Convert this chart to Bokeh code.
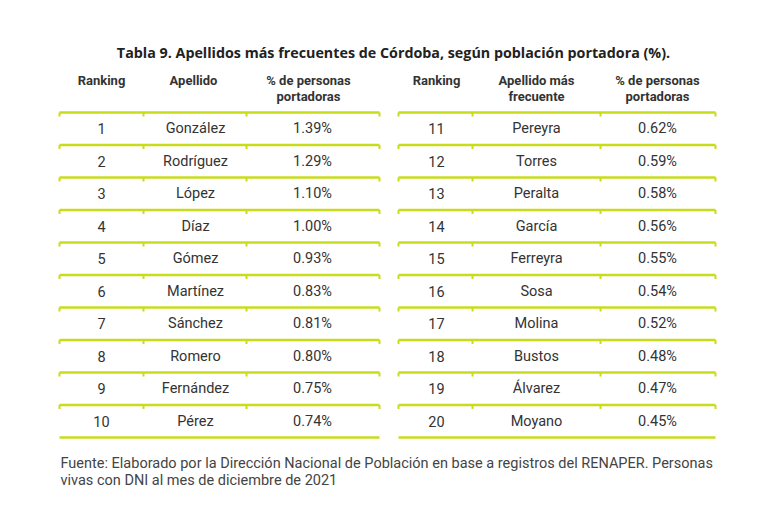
from bokeh.plotting import figure
from bokeh.models import Range1d, ColumnDataSource
from bokeh.core.properties import value
from bokeh.embed import file_html
from bokeh.resources import INLINE

title = "Tabla 9. Apellidos más frecuentes de Córdoba, según población portadora (%)."
left_headers = ["Ranking", "Apellido", "% de personas\nportadoras"]
right_headers = ["Ranking", "Apellido más\nfrecuente", "% de personas\nportadoras"]

ranking = list(range(1, 21))
apellidos = ["González", "Rodríguez", "López", "Díaz", "Gómez", "Martínez", "Sánchez",
             "Romero", "Fernández", "Pérez", "Pereyra", "Torres", "Peralta", "García",
             "Ferreyra", "Sosa", "Molina", "Bustos", "Álvarez", "Moyano"]
porcentaje = [1.39, 1.29, 1.10, 1.00, 0.93, 0.83, 0.81, 0.80, 0.75, 0.74,
              0.62, 0.59, 0.58, 0.56, 0.55, 0.54, 0.52, 0.48, 0.47, 0.45]
footer = ["Fuente: Elaborado por la Dirección Nacional de Población en base a registros del RENAPER. Personas",
          "vivas con DNI al mes de diciembre de 2021"]

W, H = 752, 496
p = figure(width=W, height=H, output_backend="svg", toolbar_location=None,
           x_range=Range1d(0, W), y_range=Range1d(H, 0),
           min_border=0)
p.axis.visible = False
p.grid.visible = False
p.outline_line_color = None
p.background_fill_color = "white"

LINE = "#c9dc1c"
TXT = "#333333"
FONT = value("Roboto")

# layout
tables = [
    dict(x0=59, bounds=[143, 246], x1=379, centers=[101, 195, 312], hx=[101, 193, 308], headers=left_headers),
    dict(x0=398, bounds=[472, 600], x1=715, centers=[436, 536, 657], hx=[436, 536, 657], headers=right_headers),
]
top = 112.0
rh = 32.5
nrows = 10

p.text(x=[393], y=[52], text=[title], text_font=value("Open Sans"), text_font_style="bold",
       text_font_size="14.3px", text_color="#222222", text_align="center", text_baseline="middle")

for t_i, t in enumerate(tables):
    # header
    for k, htxt in enumerate(t["headers"]):
        lines = htxt.split("\n")
        p.text(x=[t["hx"][k]] * len(lines), y=[80 + 16 * j for j in range(len(lines))], text=lines,
               text_font=FONT, text_font_style="bold", text_font_size="13px", text_color=TXT,
               text_align="center", text_baseline="middle")
    # lines
    ys = [top + i * rh for i in range(nrows + 1)]
    p.segment(x0=[t["x0"]] * len(ys), x1=[t["x1"]] * len(ys), y0=ys, y1=ys,
              line_color=LINE, line_width=2.5)
    tx, ty0, ty1 = [], [], []
    for i in range(nrows):
        for xx in [t["x0"]] + t["bounds"] + [t["x1"]]:
            tx.append(xx)
            ty0.append(ys[i])
            ty1.append(ys[i] + 4)
    p.segment(x0=tx, x1=tx, y0=ty0, y1=ty1, line_color=LINE, line_width=2)
    # rows
    sl = slice(t_i * nrows, (t_i + 1) * nrows)
    yc = [top + rh * (i + 0.5) for i in range(nrows)]
    src = ColumnDataSource(dict(
        y=yc,
        r=[str(v) for v in ranking[sl]],
        a=apellidos[sl],
        pc=[f"{v:.2f}%" for v in porcentaje[sl]],
    ))
    for k, col in enumerate(["r", "a", "pc"]):
        p.text(x=t["centers"][k], y="y", text=col, source=src, text_font=FONT,
               text_font_size="14.5px", text_color=TXT, text_align="center", text_baseline="middle")

p.text(x=[60, 60], y=[463, 480], text=footer, text_font=FONT, text_font_size="14.5px",
       text_color="#444444", text_align="left", text_baseline="middle")

open("out.html", "w").write(file_html(p, INLINE))
